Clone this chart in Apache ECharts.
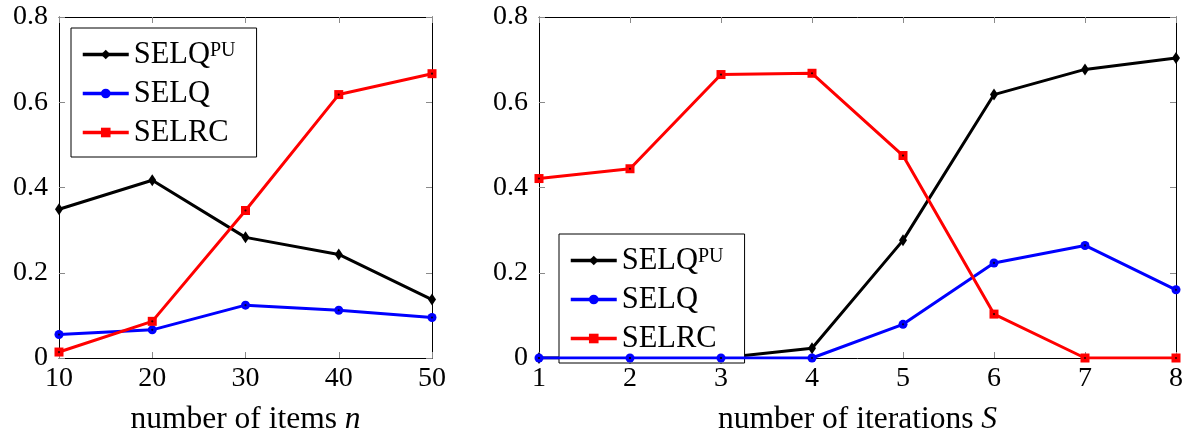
<!DOCTYPE html>
<html>
<head>
<meta charset="utf-8">
<script src="https://cdn.jsdelivr.net/npm/echarts@6/dist/echarts.min.js"></script>
<style>
  html, body { margin: 0; padding: 0; background: #fff; }
  #chart { width: 1186px; height: 441px; }
</style>
</head>
<body>
<div id="chart"></div>
<script>
// x positions
const itemsN = [10, 20, 30, 40, 50];
const iterationsS = [1, 2, 3, 4, 5, 6, 7, 8];
const yTicks = [0, 0.2, 0.4, 0.6, 0.8];

// left panel: varying number of items n
const nSelqPU = [0.349, 0.417, 0.283, 0.243, 0.137];
const nSelq   = [0.055, 0.066, 0.124, 0.112, 0.095];
const nSelrc  = [0.014, 0.086, 0.346, 0.618, 0.667];

// right panel: varying number of iterations S
const sSelqPU = [0, 0, 0, 0.023, 0.276, 0.618, 0.677, 0.704];
const sSelq   = [0, 0, 0, 0, 0.079, 0.223, 0.264, 0.160];
const sSelrc  = [0.421, 0.444, 0.665, 0.668, 0.475, 0.103, 0, 0];

const seriesNames = ['SELQ^PU', 'SELQ', 'SELRC'];

const FONT = 'Liberation Serif';
const TICK_SIZE = 28;
const LEGEND_SIZE = 30.5;
const TITLE_SIZE = 31.5;

const pairs = (xs, ys) => xs.map((x, i) => [x, ys[i]]);

function frameAxes(gridIndex, dim, min, max, interval, position, showLabels, name) {
  const ax = {
    type: 'value', gridIndex, min, max, interval, position,
    axisLine: { show: true, onZero: false, lineStyle: { color: '#000', width: 1 } },
    axisTick: { show: true, inside: true, length: 6, lineStyle: { color: '#8a8a8a', width: 1 } },
    splitLine: { show: false },
    axisLabel: { show: showLabels, color: '#000', fontFamily: FONT, fontSize: TICK_SIZE },
  };
  if (dim === 'y' && showLabels) {
    ax.axisLabel.margin = 11;
    ax.axisLabel.formatter = v => (v === 0 ? '0' : v.toFixed(1));
  }
  if (dim === 'x' && showLabels) {
    ax.axisLabel.margin = 7;
    ax.name = name;
    ax.nameLocation = 'middle';
    ax.nameGap = 46;
    ax.nameTextStyle = {
      color: '#000', fontFamily: FONT, fontSize: TITLE_SIZE,
      rich: { it: { fontStyle: 'italic', fontFamily: FONT, fontSize: TITLE_SIZE, color: '#000' } }
    };
  }
  return ax;
}

const lineStyles = [
  { color: '#000000', symbol: 'diamond', symbolSize: [8, 12] },
  { color: '#0000ff', symbol: 'circle', symbolSize: 9 },
  { color: '#ff0000', symbol: 'rect', symbolSize: 9 },
];

function lineSeries(idx, xAxisIndex, yAxisIndex, data) {
  const st = lineStyles[idx];
  return {
    name: seriesNames[idx], type: 'line', xAxisIndex, yAxisIndex, data,
    symbol: st.symbol, symbolSize: st.symbolSize, showAllSymbol: true,
    lineStyle: { color: st.color, width: 3 },
    itemStyle: { color: st.color },
    z: 3 + idx, animation: false,
  };
}

// small black dot at the centre of each mark
function dotSeries(xAxisIndex, yAxisIndex, data, z) {
  return {
    type: 'scatter', xAxisIndex, yAxisIndex, data, symbol: 'circle', symbolSize: 2.2,
    itemStyle: { color: '#000' }, silent: true, z, animation: false,
  };
}

function legendBox(left, top) {
  return {
    orient: 'vertical', left, top,
    data: seriesNames,
    backgroundColor: '#fff',
    borderColor: '#000', borderWidth: 1,
    padding: [11, 21, 9, 10],
    itemWidth: 46, itemHeight: 12, itemGap: 8,
    selectedMode: false,
    lineStyle: { width: 3.5 },
    textStyle: {
      color: '#000', fontFamily: FONT, fontSize: LEGEND_SIZE, lineHeight: 28,
      rich: {
        b: { fontFamily: FONT, fontSize: LEGEND_SIZE, color: '#000', lineHeight: 28 },
        s: { fontFamily: FONT, fontSize: 20, color: '#000', verticalAlign: 'top', lineHeight: 22 }
      }
    },
    formatter: name => (name === 'SELQ^PU' ? '{b|SELQ}{s|PU}' : name),
  };
}

const chart = echarts.init(document.getElementById('chart'), null, { renderer: 'canvas' });

const option = {
  animation: false,
  backgroundColor: '#fff',
  grid: [
    { left: 59, top: 17, width: 373, height: 349 },
    { left: 539, top: 17, width: 637, height: 349 },
  ],
  xAxis: [
    frameAxes(0, 'x', 10, 50, 10, 'bottom', true, 'number of items {it|n}'),
    frameAxes(0, 'x', 10, 50, 10, 'top', false),
    frameAxes(1, 'x', 1, 8, 1, 'bottom', true, 'number of iterations {it|S}'),
    frameAxes(1, 'x', 1, 8, 1, 'top', false),
  ],
  yAxis: [
    frameAxes(0, 'y', yTicks[0], yTicks[yTicks.length - 1], 0.2, 'left', true),
    frameAxes(0, 'y', yTicks[0], yTicks[yTicks.length - 1], 0.2, 'right', false),
    frameAxes(1, 'y', yTicks[0], yTicks[yTicks.length - 1], 0.2, 'left', true),
    frameAxes(1, 'y', yTicks[0], yTicks[yTicks.length - 1], 0.2, 'right', false),
  ],
  legend: [legendBox(71, 28), legendBox(559, 234)],
  series: [
    lineSeries(0, 0, 0, pairs(itemsN, nSelqPU)),
    lineSeries(1, 0, 0, pairs(itemsN, nSelq)),
    lineSeries(2, 0, 0, pairs(itemsN, nSelrc)),
    dotSeries(0, 0, pairs(itemsN, nSelqPU), 10),
    dotSeries(0, 0, pairs(itemsN, nSelq), 10),
    dotSeries(0, 0, pairs(itemsN, nSelrc), 10),
    lineSeries(0, 2, 2, pairs(iterationsS, sSelqPU)),
    lineSeries(1, 2, 2, pairs(iterationsS, sSelq)),
    lineSeries(2, 2, 2, pairs(iterationsS, sSelrc)),
    dotSeries(2, 2, pairs(iterationsS, sSelqPU), 10),
    dotSeries(2, 2, pairs(iterationsS, sSelq), 10),
    dotSeries(2, 2, pairs(iterationsS, sSelrc), 10),
  ],
};

chart.setOption(option);
</script>
</body>
</html>
